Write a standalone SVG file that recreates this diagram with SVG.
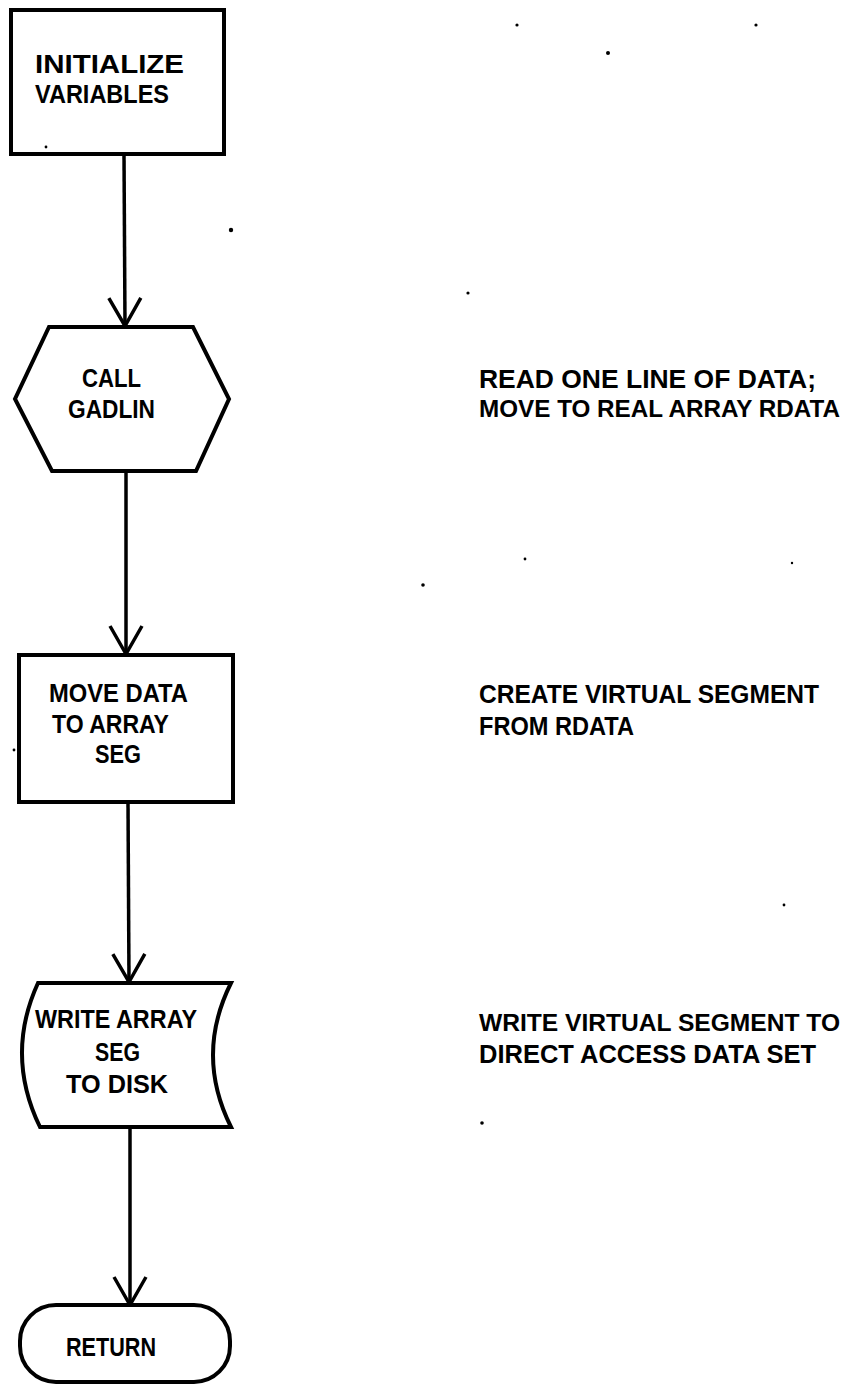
<svg xmlns="http://www.w3.org/2000/svg" width="849" height="1385" viewBox="0 0 849 1385">
<style>
.bg{fill:#fff}
.node{fill:#fff;stroke:#000;stroke-width:4;stroke-linejoin:miter}
.conn{fill:none;stroke:#000;stroke-width:3.5}
.t{font-family:"Liberation Sans",Arial,sans-serif;font-weight:bold;font-size:26px;fill:#000}
.t2{font-size:24px}
.speck{fill:#000}
</style>
<defs>
<marker id="vhead" markerUnits="userSpaceOnUse" viewBox="-32 -20 36 40" markerWidth="36" markerHeight="40" refX="0" refY="0" orient="auto" overflow="visible">
<path d="M-28,-16 L0,0 L-28,16" fill="none" stroke="#000" stroke-width="3.5"/>
</marker>
</defs>
<rect class="bg" x="0" y="0" width="849" height="1385"/>

<g id="connectors">
<path class="conn" d="M124,154 L125,326" marker-end="url(#vhead)"/>
<path class="conn" d="M126,472 L126,654" marker-end="url(#vhead)"/>
<path class="conn" d="M128,802 L129,982" marker-end="url(#vhead)"/>
<path class="conn" d="M130,1127 L130,1305" marker-end="url(#vhead)"/>
</g>

<g id="node-initialize">
<rect class="node" x="11" y="10" width="213" height="144"/>
<text class="t" x="35" y="73" textLength="149" lengthAdjust="spacingAndGlyphs">INITIALIZE</text>
<text class="t" x="35" y="103" textLength="134" lengthAdjust="spacingAndGlyphs">VARIABLES</text>
</g>

<g id="node-call-gadlin">
<polygon class="node" points="49,327 193,327 229,399 196,471 52,471 15,399"/>
<text class="t" x="82" y="387" textLength="59" lengthAdjust="spacingAndGlyphs">CALL</text>
<text class="t" x="68" y="418" textLength="87" lengthAdjust="spacingAndGlyphs">GADLIN</text>
</g>

<g id="note-read">
<text class="t" x="479" y="388" textLength="337" lengthAdjust="spacingAndGlyphs">READ ONE LINE OF DATA;</text>
<text class="t t2" x="479" y="417" textLength="361" lengthAdjust="spacingAndGlyphs">MOVE TO REAL ARRAY RDATA</text>
</g>

<g id="node-move-data">
<rect class="node" x="19" y="655" width="214" height="147"/>
<text class="t" x="49" y="702" textLength="139" lengthAdjust="spacingAndGlyphs">MOVE DATA</text>
<text class="t" x="52" y="733" textLength="117" lengthAdjust="spacingAndGlyphs">TO ARRAY</text>
<text class="t" x="95" y="763" textLength="46" lengthAdjust="spacingAndGlyphs">SEG</text>
</g>

<g id="note-create">
<text class="t" x="479" y="703" textLength="340" lengthAdjust="spacingAndGlyphs">CREATE VIRTUAL SEGMENT</text>
<text class="t" x="479" y="735" textLength="155" lengthAdjust="spacingAndGlyphs">FROM RDATA</text>
</g>

<g id="node-write-array">
<path class="node" d="M38,983 L231,983 Q195,1055 231,1127 L40,1127 Q5,1055 38,983 Z"/>
<text class="t" x="35" y="1028" textLength="162" lengthAdjust="spacingAndGlyphs">WRITE ARRAY</text>
<text class="t" x="95" y="1061" textLength="45" lengthAdjust="spacingAndGlyphs">SEG</text>
<text class="t" x="66" y="1093" textLength="102" lengthAdjust="spacingAndGlyphs">TO DISK</text>
</g>

<g id="note-write">
<text class="t t2" x="479" y="1031" textLength="361" lengthAdjust="spacingAndGlyphs">WRITE VIRTUAL SEGMENT TO</text>
<text class="t" x="479" y="1063" textLength="337" lengthAdjust="spacingAndGlyphs">DIRECT ACCESS DATA SET</text>
</g>

<g id="node-return">
<rect class="node" x="20" y="1305" width="210" height="77" rx="36" ry="36"/>
<text class="t" x="66" y="1356" textLength="90" lengthAdjust="spacingAndGlyphs">RETURN</text>
</g>

<g id="specks">
<circle class="speck" cx="517" cy="25" r="1.6"/>
<circle class="speck" cx="756" cy="25" r="1.6"/>
<circle class="speck" cx="608" cy="53" r="2"/>
<circle class="speck" cx="231" cy="230" r="2.2"/>
<circle class="speck" cx="468" cy="293" r="1.6"/>
<circle class="speck" cx="46" cy="147" r="1.4"/>
<circle class="speck" cx="525" cy="559" r="1.4"/>
<circle class="speck" cx="792" cy="563" r="1.2"/>
<circle class="speck" cx="423" cy="585" r="1.8"/>
<circle class="speck" cx="14" cy="750" r="1.4"/>
<circle class="speck" cx="784" cy="905" r="1.4"/>
<circle class="speck" cx="482" cy="1123" r="1.8"/>
</g>
</svg>
